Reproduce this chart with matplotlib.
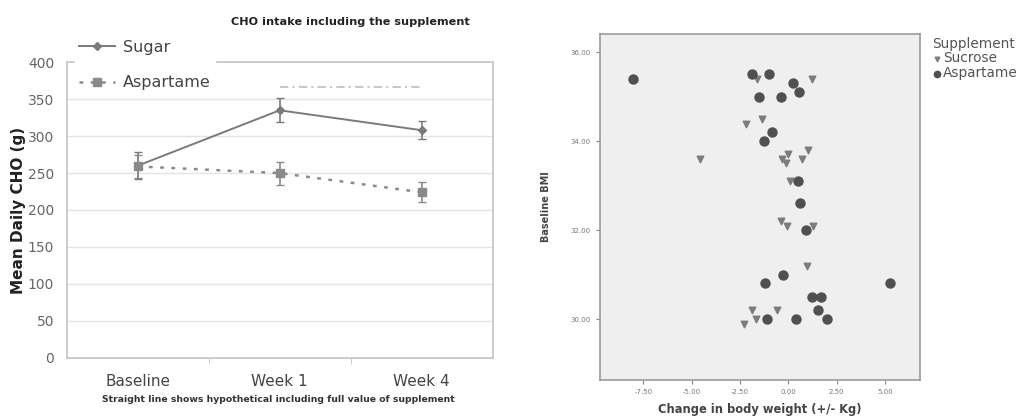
import matplotlib
matplotlib.use("Agg")
import matplotlib.pyplot as plt
from matplotlib.lines import Line2D
import numpy as np

# left panel: mean daily CHO
periods = ["Baseline", "Week 1", "Week 4"]
sugar_mean = [260, 335, 308]
sugar_err = [18, 16, 12.5]
asp_mean = [259, 250, 224]
asp_err = [16, 15.5, 13.5]
hypo_x = [1, 2]
hypo_y = [366, 366]

# right panel: change in weight vs baseline BMI
asp_dw = [-8.02, -1.86, -0.98, 0.22, 0.53, -1.50, -0.38, -0.86, -1.28, 0.52, 0.62,
          0.90, -0.28, -1.19, 5.28, 1.21, 1.71, 1.52, -1.10, 0.41, 2.02]
asp_bmi = [35.40, 35.50, 35.50, 35.30, 35.11, 35.00, 35.00, 34.20, 34.01, 33.10, 32.60,
           32.00, 31.00, 30.80, 30.80, 30.50, 30.50, 30.20, 30.00, 30.00, 30.00]
suc_dw = [-1.64, 1.21, -2.17, -1.38, -4.57, -0.31, 0.00, -0.14, 0.71, 1.02, 0.09,
          -0.40, -0.09, 1.29, 0.98, -1.88, -0.60, -1.67, -2.28]
suc_bmi = [35.40, 35.40, 34.39, 34.50, 33.59, 33.61, 33.71, 33.50, 33.59, 33.80, 33.10,
           32.21, 32.09, 32.09, 31.19, 30.20, 30.20, 30.00, 29.90]

W, H = 1026, 417
fig = plt.figure(figsize=(W / 100, H / 100), dpi=100)


def box(l, t, r, b):
    return [l / W, 1 - b / H, (r - l) / W, (b - t) / H]


# ---- left chart ----
ax = fig.add_axes(box(66.7, 62.3, 492.7, 357.7))
x = np.arange(len(periods))
ax.set_xlim(-0.5, 2.5)
ax.set_ylim(0, 400)
ax.set_yticks(np.arange(0, 401, 50))
for v in np.arange(50, 400, 50):
    ax.axhline(v, color="#e4e4e4", lw=1, zorder=0)
for s in ax.spines.values():
    s.set_color("#c4c4c4")
    s.set_linewidth(1.2)
ax.set_xticks([0.5, 1.5], minor=True)
ax.set_xticks(x)
ax.set_xticklabels(periods, fontsize=11, color="#444")
ax.tick_params(axis="x", which="major", length=0, pad=12)
ax.tick_params(axis="x", which="minor", length=4, color="#c4c4c4")
ax.tick_params(axis="y", length=0, labelsize=10, labelcolor="#666", pad=9)

ax.plot(hypo_x, hypo_y, color="#c8c8c8", lw=1.5, ls=(0, (4, 2, 1, 2)))
ax.errorbar(x, sugar_mean, yerr=sugar_err, color="#7a7a7a", lw=1.4, marker="D",
            ms=4, capsize=3, elinewidth=1.2)
ax.errorbar(x, asp_mean, yerr=asp_err, color="#8a8a8a", lw=1.8, ls=(0, (1.5, 3)),
            marker="s", ms=6, capsize=3, elinewidth=1.2)
handles = [Line2D([], [], color="#7a7a7a", lw=1.4, marker="D", ms=4),
           Line2D([], [], color="#8a8a8a", lw=1.8, ls=(0, (1.5, 3)), marker="s", ms=6)]
leg = ax.legend(handles, ["Sugar", "Aspartame"], loc="upper left",
                bbox_to_anchor=(0.0, 1.12), frameon=True,
                fontsize=11.5, handlelength=2.2, handletextpad=0.5, labelspacing=1.3,
                borderpad=0.3, facecolor="white", edgecolor="white", framealpha=1)
for t in leg.get_texts():
    t.set_color("#444")
ax.set_ylabel("Mean Daily CHO (g)", fontsize=11, fontweight="bold", color="#222", labelpad=1)
fig.text(350 / W, 1 - 21.7 / H, "CHO intake including the supplement", ha="center",
         va="center", fontsize=8.1, fontweight="bold", color="#222")
fig.text(278 / W, 1 - 399 / H, "Straight line shows hypothetical including full value of supplement",
         ha="center", va="center", fontsize=6.7, fontweight="bold", color="#333")

# ---- right chart ----
bx = fig.add_axes(box(600, 34, 920, 380))
bx.set_facecolor("#efefef")
bx.set_xlim(-9.74, 6.81)
bx.set_ylim(28.63, 36.41)
for s in bx.spines.values():
    s.set_color("#9a9a9a")
    s.set_linewidth(1.2)
bx.set_xticks([-7.5, -5, -2.5, 0, 2.5, 5])
bx.set_xticklabels(["-7.50", "-5.00", "-2.50", "0.00", "2.50", "5.00"])
bx.set_yticks([30, 32, 34, 36])
bx.set_yticklabels(["30.00", "32.00", "34.00", "36.00"])
bx.tick_params(labelsize=5, labelcolor="#777", color="#888", length=3)
bx.scatter(suc_dw, suc_bmi, marker="v", s=22, color="#7c7c7c", label="Sucrose", zorder=3)
bx.scatter(asp_dw, asp_bmi, marker="o", s=42, color="#505050", label="Aspartame", zorder=3)
bx.set_xlabel("Change in body weight (+/- Kg)", fontsize=8.3, fontweight="bold", color="#444", labelpad=6)
bx.set_ylabel("Baseline BMI", fontsize=7, fontweight="bold", color="#444", labelpad=14)
lg = bx.legend(loc="upper left", bbox_to_anchor=(1.03, 1.0), frameon=False, title="Supplement",
               fontsize=9.8, title_fontsize=9.8, handletextpad=0.1, labelspacing=0.05,
               handlelength=0.7, borderaxespad=0, borderpad=0.2, markerscale=0.7)
lg._legend_box.align = "left"
lg.get_title().set_color("#555")
for t in lg.get_texts():
    t.set_color("#555")

fig.savefig("out.png", dpi=100)
